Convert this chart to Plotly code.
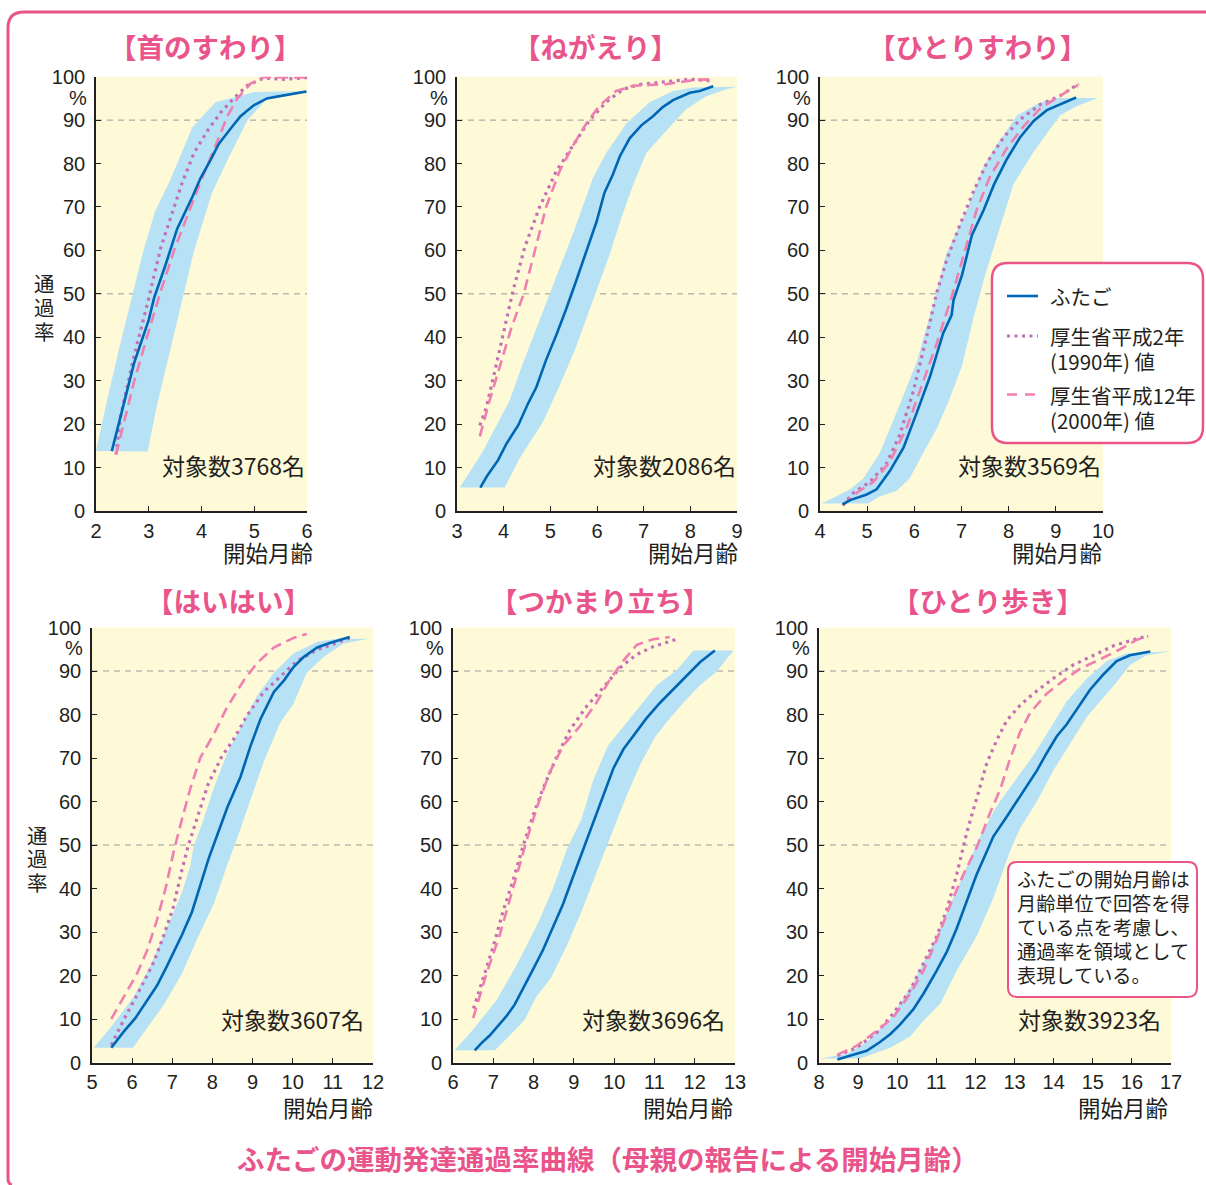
import plotly.graph_objects as go

# ---------------- data ----------------
panel_titles = ["【首のすわり】", "【ねがえり】", "【ひとりすわり】",
                "【はいはい】", "【つかまり立ち】", "【ひとり歩き】"]
subject_counts = ["対象数3768名", "対象数2086名", "対象数3569名",
                  "対象数3607名", "対象数3696名", "対象数3923名"]
legend_labels = ["ふたご", "厚生省平成2年", "(1990年) 値", "厚生省平成12年", "(2000年) 値"]
note_lines = ["ふたごの開始月齢は", "月齢単位で回答を得", "ている点を考慮し、",
              "通過率を領域として", "表現している。"]
y_title_chars = ["通", "過", "率"]
y_ticks = [0, 10, 20, 30, 40, 50, 60, 70, 80, 90, 100]
ref_lines = [50, 90]

# 首のすわり
neck_ticks = [2, 3, 4, 5, 6]
neck_twin_x = [2.30, 2.55, 2.72, 3.0, 3.1, 3.3, 3.48, 3.54, 3.83, 3.98, 4.17, 4.33, 4.55, 4.74, 4.99, 5.24, 5.56, 5.99]
neck_twin_y = [13.8, 25.5, 34, 44, 49, 56, 62.4, 65, 72.4, 76.6, 80.8, 84.6, 88, 90.9, 93.4, 95, 95.7, 96.6]
neck_band_up_x = [2.0, 2.2, 2.45, 2.69, 2.9, 3.12, 3.4, 3.83, 4.27, 4.7, 5.0, 6.0]
neck_band_up_y = [13.8, 25, 38, 50, 60, 69, 76, 88.4, 94.2, 95.5, 96.5, 96.7]
neck_band_lo_x = [2.98, 3.15, 3.35, 3.5, 3.66, 3.86, 4.2, 4.5, 4.87, 5.24, 5.6, 6.0]
neck_band_lo_y = [13.7, 24, 34, 42, 50, 60, 73.3, 81, 90, 94.9, 96.3, 96.7]
neck_1990_x = [2.38, 2.47, 2.72, 2.98, 3.23, 3.48, 3.64, 3.86, 4.11, 4.36, 4.61, 4.87, 5.18, 5.56, 6.0]
neck_1990_y = [13, 22, 35.6, 48, 60.7, 70, 75.8, 82.5, 87.5, 91.7, 95, 98, 99.7, 99.4, 99.8]
neck_2000_x = [2.38, 2.72, 2.98, 3.23, 3.48, 3.73, 3.98, 4.24, 4.49, 4.68, 4.93, 5.18, 6.0]
neck_2000_y = [13, 29.7, 40.6, 50.7, 60, 68, 75.8, 83.3, 90.9, 95, 98.4, 99.9, 99.8]

# ねがえり
roll_ticks = [3, 4, 5, 6, 7, 8, 9]
roll_twin_x = [3.5, 3.64, 3.88, 4.06, 4.31, 4.52, 4.7, 4.91, 5.13, 5.34, 5.56, 5.77, 5.99, 6.16, 6.34, 6.49, 6.7, 6.95, 7.2, 7.41, 7.63, 7.99, 8.2, 8.49]
roll_twin_y = [5.4, 8, 11.7, 15.5, 19.7, 24.7, 28.5, 34.8, 40.6, 46.5, 53.2, 59.9, 66.6, 73.3, 77.5, 81.7, 85.8, 88.8, 90.9, 93, 94.6, 96.3, 96.7, 97.8]
roll_band_up_x = [3.06, 3.56, 4.13, 4.41, 4.77, 5.13, 5.49, 5.91, 6.2, 6.63, 7.13, 7.63, 8.06, 9.01]
roll_band_up_y = [5.4, 13.8, 25.5, 33.9, 44, 54, 64, 76.6, 82.5, 89.2, 94.2, 96.7, 97.5, 97.7]
roll_band_lo_x = [4.02, 4.34, 4.84, 5.2, 5.52, 5.77, 6.02, 6.27, 6.52, 6.77, 7.06, 7.41, 7.91, 8.34, 8.77, 9.01]
roll_band_lo_y = [5.4, 12.1, 20.5, 28.9, 36.9, 44, 51.5, 59, 67.4, 75, 82.5, 86.7, 92.5, 95.5, 97.1, 97.7]
roll_1990_x = [3.49, 3.63, 3.81, 3.99, 4.2, 4.45, 4.77, 5.13, 5.49, 5.84, 6.2, 6.56, 6.91, 7.49, 7.99, 8.41]
roll_1990_y = [19.7, 23.9, 32.2, 40.6, 50.7, 60.7, 70, 78.3, 84.2, 90, 94.2, 97.1, 98.2, 98.8, 99.4, 99.1]
roll_2000_x = [3.49, 3.7, 3.91, 4.16, 4.43, 4.66, 4.91, 5.2, 5.49, 5.77, 6.06, 6.41, 6.77, 7.49, 8.06, 8.41]
roll_2000_y = [17.2, 25.5, 33, 42, 50, 59.9, 70, 78.3, 84.2, 89.2, 93.4, 96.7, 97.9, 98.3, 99.2, 99.4]

# ひとりすわり
sit_ticks = [4, 5, 6, 7, 8, 9, 10]
sit_twin_x = [4.48, 4.64, 4.99, 5.2, 5.48, 5.77, 6.05, 6.33, 6.61, 6.79, 6.83, 7.01, 7.22, 7.47, 7.69, 7.96, 8.24, 8.53, 8.81, 9.16, 9.43]
sit_twin_y = [1.5, 2.5, 3.8, 5, 9.2, 14.6, 22.6, 30.9, 40.9, 45.1, 48.5, 54.3, 63.5, 69.3, 75.2, 81, 86, 89.8, 92.3, 94, 95.2]
sit_band_up_x = [4.04, 4.64, 4.92, 5.27, 5.62, 6.05, 6.4, 6.68, 7.11, 7.47, 7.75, 8.18, 8.66, 9.01, 9.89]
sit_band_up_y = [1.7, 5, 7.5, 13.4, 22.6, 34.3, 47.6, 59.3, 69.3, 79.4, 84.4, 91.1, 94, 95.1, 95.1]
sit_band_lo_x = [5.02, 5.27, 5.62, 5.9, 6.19, 6.47, 6.75, 7.01, 7.25, 7.5, 7.75, 8.1, 8.53, 8.81, 9.09, 9.44, 9.89]
sit_band_lo_y = [1.7, 3.4, 4.6, 7.5, 13.4, 18.8, 25.9, 33.4, 44.3, 54.3, 62.7, 75.2, 82.7, 86.9, 91.1, 93.2, 95.1]
sit_1990_x = [4.48, 4.71, 5.06, 5.41, 5.69, 5.98, 6.26, 6.47, 6.68, 6.97, 7.25, 7.54, 7.89, 8.25, 8.67, 9.09, 9.49]
sit_1990_y = [1.3, 4.2, 6.7, 10.9, 17.5, 27.6, 40.1, 50.1, 57.6, 66, 73.5, 80.2, 86, 90.2, 93.6, 95.6, 98.4]
sit_2000_x = [4.48, 4.78, 5.13, 5.48, 5.84, 6.12, 6.47, 6.79, 7.03, 7.32, 7.6, 7.96, 8.31, 8.67, 9.09, 9.47]
sit_2000_y = [1.3, 4.2, 6.7, 11.3, 19.2, 27.6, 38.4, 49.3, 58.5, 69.3, 76.9, 83.5, 88.5, 92.7, 95.6, 98.1]

# はいはい
crawl_ticks = [5, 6, 7, 8, 9, 10, 11, 12]
crawl_twin_x = [5.48, 5.79, 6.08, 6.37, 6.62, 6.87, 7.24, 7.49, 7.7, 7.91, 8.12, 8.37, 8.7, 8.95, 9.2, 9.53, 9.78, 10.02, 10.27, 10.61, 10.94, 11.42]
crawl_twin_y = [3.4, 7.1, 10.2, 14.2, 17.7, 22.2, 29.3, 34.6, 40.8, 47, 52.3, 58.6, 65.7, 72.8, 79, 85.2, 87.8, 90.9, 93.2, 95.4, 96.5, 97.8]
crawl_band_up_x = [5.04, 5.46, 6.04, 6.45, 6.87, 7.24, 7.45, 7.53, 7.78, 8.03, 8.36, 8.7, 9.11, 9.53, 10.02, 10.61, 11.11, 11.89]
crawl_band_up_y = [3.4, 8, 15.1, 22.2, 31.1, 39, 45.2, 49.6, 55.9, 63, 71, 77.2, 84.3, 89.6, 94, 96.7, 97.4, 97.4]
crawl_band_lo_x = [6.02, 6.37, 6.79, 7.24, 7.62, 8.03, 8.36, 8.61, 8.95, 9.28, 9.69, 10.02, 10.35, 10.77, 11.27, 11.89]
crawl_band_lo_y = [3.4, 8, 13.3, 20.4, 28.4, 36.4, 45.2, 51.4, 60.3, 69.2, 78.1, 82.5, 89.6, 93.2, 96.3, 97.4]
crawl_1990_x = [5.48, 5.79, 6.2, 6.54, 6.79, 7.02, 7.22, 7.39, 7.64, 7.89, 8.22, 8.54, 8.87, 9.28, 9.69, 10.11, 10.61, 11.02, 11.43]
crawl_1990_y = [4, 9.8, 16.9, 23.1, 29.3, 35.5, 43.5, 49.6, 56.8, 63.9, 70.1, 74.5, 79.9, 85.2, 88.7, 92.3, 94.9, 96.3, 97.6]
crawl_2000_x = [5.48, 5.79, 6.12, 6.37, 6.62, 6.83, 7.04, 7.24, 7.45, 7.7, 8.03, 8.36, 8.78, 9.11, 9.53, 10.02, 10.35]
crawl_2000_y = [10, 15.1, 20.4, 25.7, 32.8, 39.9, 48.7, 55.9, 63, 70.1, 75.4, 81.6, 87.8, 91.8, 95.4, 97.6, 98.5]

# つかまり立ち
stand_ticks = [6, 7, 8, 9, 10, 11, 12, 13]
stand_twin_x = [6.54, 6.7, 6.91, 7.16, 7.33, 7.53, 7.74, 7.98, 8.23, 8.48, 8.73, 8.98, 9.23, 9.48, 9.73, 9.98, 10.23, 10.52, 10.8, 11.14, 11.47, 11.8, 12.13, 12.5]
stand_twin_y = [2.8, 4.4, 6.2, 8.9, 10.7, 13.3, 16.9, 21.3, 25.8, 31.1, 36.4, 42.7, 48.9, 55.1, 61.3, 67.6, 72, 75.6, 79.1, 82.7, 85.8, 88.9, 92, 94.7]
stand_band_up_x = [6.04, 6.5, 7.07, 7.49, 7.82, 8.15, 8.48, 8.82, 9.19, 9.48, 9.85, 10.23, 10.64, 11.06, 11.55, 11.97, 12.96]
stand_band_up_y = [2.8, 7.6, 14.2, 20.9, 26.7, 32.9, 40, 48.9, 56, 64.9, 72.9, 77.3, 81.8, 86.7, 90.2, 94.7, 94.7]
stand_band_lo_x = [7.04, 7.41, 7.78, 8.07, 8.44, 8.82, 9.19, 9.56, 9.93, 10.31, 10.64, 11.01, 11.3, 11.72, 12.13, 12.54, 12.96]
stand_band_lo_y = [2.8, 6.2, 9.8, 15.1, 19.6, 26.7, 34.7, 43.6, 52.4, 61.3, 68.4, 74.7, 78.2, 82.7, 86.7, 89.8, 94.7]
stand_1990_x = [6.51, 6.75, 7.0, 7.24, 7.49, 7.74, 7.99, 8.24, 8.57, 8.9, 9.31, 9.73, 10.14, 10.56, 10.97, 11.55]
stand_1990_y = [12.4, 19.6, 26.7, 34.7, 41.8, 49.8, 56.9, 63.1, 70.2, 76.4, 81.8, 86.2, 90.7, 93.8, 95.6, 97.3]
stand_2000_x = [6.5, 6.83, 7.16, 7.41, 7.66, 7.87, 8.12, 8.4, 8.74, 9.15, 9.56, 9.89, 10.23, 10.56, 10.97, 11.38]
stand_2000_y = [10.2, 20.4, 29.3, 37.3, 45.3, 52.4, 59.6, 66.7, 72.9, 77.3, 82.7, 88, 92.4, 96, 97.3, 97.8]

# ひとり歩き
walk_ticks = [8, 9, 10, 11, 12, 13, 14, 15, 16, 17]
walk_twin_x = [8.47, 8.71, 8.96, 9.22, 9.56, 9.82, 10.07, 10.41, 10.67, 11.01, 11.27, 11.52, 11.77, 12.03, 12.29, 12.46, 12.8, 13.06, 13.31, 13.57, 13.82, 14.08, 14.33, 14.59, 14.93, 15.27, 15.61, 15.95, 16.21, 16.47]
walk_twin_y = [0.7, 1.4, 2, 2.7, 4.7, 6.5, 8.7, 12.2, 15.8, 21.1, 25.5, 30.8, 37, 43.2, 48.5, 52, 56.5, 60, 63.5, 67.1, 71.1, 75, 77.7, 81.2, 85.7, 89.2, 92.3, 93.6, 94.1, 94.5]
walk_band_up_x = [8.03, 8.71, 9.22, 9.82, 10.41, 10.92, 11.35, 11.69, 12.12, 12.55, 13.06, 13.48, 13.91, 14.33, 14.85, 15.36, 15.87, 16.97]
walk_band_up_y = [0.9, 2, 4.7, 10, 18.4, 27.3, 36.1, 43.2, 52, 59.1, 65.3, 70.6, 76.8, 83, 88.3, 92.3, 94.1, 94.5]
walk_band_lo_x = [9.05, 9.39, 9.82, 10.33, 10.67, 11.1, 11.52, 12.03, 12.46, 12.88, 13.14, 13.57, 13.99, 14.42, 14.85, 15.19, 15.61, 15.95, 16.38, 16.97]
walk_band_lo_y = [0.9, 2, 3.4, 6, 9.6, 13.5, 21.1, 29, 37.9, 48.5, 53.8, 60, 67.1, 73.3, 79.5, 83, 87.4, 91.4, 93.6, 94.5]
walk_1990_x = [8.47, 8.96, 9.48, 9.9, 10.33, 10.67, 11.01, 11.27, 11.52, 11.78, 12.03, 12.29, 12.55, 12.8, 13.14, 13.48, 13.99, 14.5, 15.02, 15.53, 16.04, 16.38]
walk_1990_y = [1.6, 3.4, 6.9, 11.3, 16.6, 22.8, 29, 35.2, 43.2, 52.9, 60.8, 68.8, 74.2, 78.6, 82.1, 84.8, 88.3, 91.4, 93.6, 95.8, 97.2, 98]
walk_2000_x = [8.47, 8.96, 9.48, 9.9, 10.33, 10.67, 11.01, 11.35, 11.69, 12.03, 12.37, 12.63, 12.88, 13.14, 13.4, 13.82, 14.25, 14.67, 15.19, 15.7, 16.13, 16.42]
walk_2000_y = [1.8, 3.8, 7.3, 10.4, 15.8, 21.1, 28.2, 36.1, 43.2, 49.4, 57.3, 62.7, 69.7, 75.9, 80.4, 84.8, 87.8, 90.5, 92.7, 95, 97.2, 98]

datasets = [
    (neck_ticks, neck_twin_x, neck_twin_y, neck_band_up_x, neck_band_up_y, neck_band_lo_x, neck_band_lo_y, neck_1990_x, neck_1990_y, neck_2000_x, neck_2000_y),
    (roll_ticks, roll_twin_x, roll_twin_y, roll_band_up_x, roll_band_up_y, roll_band_lo_x, roll_band_lo_y, roll_1990_x, roll_1990_y, roll_2000_x, roll_2000_y),
    (sit_ticks, sit_twin_x, sit_twin_y, sit_band_up_x, sit_band_up_y, sit_band_lo_x, sit_band_lo_y, sit_1990_x, sit_1990_y, sit_2000_x, sit_2000_y),
    (crawl_ticks, crawl_twin_x, crawl_twin_y, crawl_band_up_x, crawl_band_up_y, crawl_band_lo_x, crawl_band_lo_y, crawl_1990_x, crawl_1990_y, crawl_2000_x, crawl_2000_y),
    (stand_ticks, stand_twin_x, stand_twin_y, stand_band_up_x, stand_band_up_y, stand_band_lo_x, stand_band_lo_y, stand_1990_x, stand_1990_y, stand_2000_x, stand_2000_y),
    (walk_ticks, walk_twin_x, walk_twin_y, walk_band_up_x, walk_band_up_y, walk_band_lo_x, walk_band_lo_y, walk_1990_x, walk_1990_y, walk_2000_x, walk_2000_y),
]

# ---------------- layout / style ----------------
W, H = 1206, 1185
def px(v): return v / W
def py(v): return 1 - v / H

PINK = "#ea5589"
TITLE_PINK = "#e9548a"
BLUE = "#0066b3"
BAND = "#b7e2f6"
DOT = "#c26fb5"
DASH = "#ef7fb0"
YELLOW = "#fef9d6"
INK = "#231f20"
LAT = "Liberation Sans, Arial, Noto Sans CJK JP, sans-serif"
JP = "Noto Sans CJK JP, sans-serif"

# pixel frames of each plot area: (x0, x1, ytop, ybottom)
frames = [(96, 307, 76.7, 511), (457, 737, 76.7, 511), (820, 1103, 76.7, 511),
          (92, 373, 627.5, 1062.5), (453, 735, 627.5, 1062.5), (819, 1171, 627.5, 1062.5)]
title_pos = [(205, 46), (595, 46), (977, 46), (228, 600), (600, 600), (988, 600)]
xlabel_y = [552, 552, 552, 1107, 1107, 1107]
xlabel_shift = [8, 3, 1, 2, 0, -1]
count_shift = [0, 1, 0, -7, -8, -8]
count_y = [10.6, 10.6, 10.6, 10, 10, 10]

fig = go.Figure()
annotations = []
shapes = []
layout_axes = {}

for i, (frame, ds) in enumerate(zip(frames, datasets)):
    ticks, tx, ty, ux, uy, lx, ly, x90, y90, x00, y00 = ds
    n = "" if i == 0 else str(i + 1)
    xa, ya = "x" + n, "y" + n
    x0, x1, yt, yb = frame
    fig.add_trace(go.Scatter(x=ux + lx[::-1], y=uy + ly[::-1], fill="toself", fillcolor=BAND,
                             line=dict(width=0), mode="lines", hoverinfo="skip",
                             showlegend=False, xaxis=xa, yaxis=ya))
    fig.add_trace(go.Scatter(x=x90, y=y90, mode="lines", showlegend=False,
                             line=dict(color=DOT, width=3.2, dash="3px,4.5px"), xaxis=xa, yaxis=ya))
    fig.add_trace(go.Scatter(x=x00, y=y00, mode="lines", showlegend=False,
                             line=dict(color=DASH, width=2.6, dash="11px,6px"), xaxis=xa, yaxis=ya))
    fig.add_trace(go.Scatter(x=tx, y=ty, mode="lines", showlegend=False,
                             line=dict(color=BLUE, width=2.6), xaxis=xa, yaxis=ya))
    axis_common = dict(showline=True, linecolor=INK, linewidth=1.6, ticks="inside", ticklen=5,
                       tickwidth=1.3, tickcolor=INK, showgrid=False, zeroline=False, automargin=False,
                       tickfont=dict(family=LAT, size=20, color=INK), fixedrange=True)
    layout_axes["xaxis" + n] = dict(axis_common, domain=[px(x0), px(x1)], range=[ticks[0], ticks[-1]],
                                    tickvals=ticks, anchor=ya, ticklabelstandoff=1)
    layout_axes["yaxis" + n] = dict(axis_common, domain=[py(yb), py(yt)], range=[0, 100],
                                    tickvals=y_ticks, anchor=xa, ticklabelstandoff=5)
    for r in ref_lines:
        shapes.append(dict(type="line", xref=xa + " domain", yref=ya, x0=0, x1=1, y0=r, y1=r,
                           line=dict(color="#9a9a9a", width=1, dash="6px,5px"), layer="below"))
    tx_, ty_ = title_pos[i]
    annotations.append(dict(text=panel_titles[i], xref="paper", yref="paper", x=px(tx_), y=py(ty_),
                            showarrow=False, xanchor="center", yanchor="middle",
                            font=dict(family=JP, size=27.5, color=TITLE_PINK, weight="bold")))
    annotations.append(dict(text="%", xref=xa + " domain", yref=ya, x=0, y=95.2, xshift=-7,
                            showarrow=False, xanchor="right", yanchor="middle",
                            font=dict(family=LAT, size=20, color=INK)))
    annotations.append(dict(text="開始月齢", xref=xa + " domain", yref="paper", x=1, y=py(xlabel_y[i]),
                            xshift=xlabel_shift[i], showarrow=False, xanchor="right", yanchor="middle",
                            font=dict(family=JP, size=22.5, color=INK)))
    annotations.append(dict(text=subject_counts[i], xref=xa + " domain", yref=ya, x=1, y=count_y[i],
                            xshift=count_shift[i], showarrow=False, xanchor="right", yanchor="middle",
                            font=dict(family=JP, size=23, color=INK)))

# y-axis titles (stacked vertically, one glyph per line)
for (cx, cy) in [(44, 307), (37, 858)]:
    for k, ch in enumerate(y_title_chars):
        annotations.append(dict(text=ch, xref="paper", yref="paper", x=px(cx), y=py(cy + (k - 1) * 23.5),
                                showarrow=False, xanchor="center", yanchor="middle",
                                font=dict(family=JP, size=20.5, color=INK)))

def P(a, b): return f"{px(a):.5f},{py(b):.5f}"

def rrect(x0, y0, x1, y1, r):
    return (f"M {P(x0 + r, y0)} L {P(x1 - r, y0)} Q {P(x1, y0)} {P(x1, y0 + r)} "
            f"L {P(x1, y1 - r)} Q {P(x1, y1)} {P(x1 - r, y1)} L {P(x0 + r, y1)} "
            f"Q {P(x0, y1)} {P(x0, y1 - r)} L {P(x0, y0 + r)} Q {P(x0, y0)} {P(x0 + r, y0)} Z")

# outer frame
shapes.append(dict(type="path", xref="paper", yref="paper",
                   path=f"M {P(1206, 12)} L {P(24, 12)} Q {P(8, 12)} {P(8, 28)} L {P(8, 1178)} Q {P(8, 1184)} {P(12, 1185)}",
                   line=dict(color=PINK, width=3)))

# legend box
shapes.append(dict(type="path", xref="paper", yref="paper", path=rrect(992, 263, 1203, 443, 16),
                   fillcolor="white", line=dict(color=PINK, width=2.5), layer="above"))
legend_rows = [(296, BLUE, None, 2.6), (336, DOT, "3px,4.5px", 3.2), (394.5, DASH, "10px,8px", 2.6)]
for (ly_, col, dsh, wd) in legend_rows:
    ln = dict(color=col, width=wd)
    if dsh:
        ln["dash"] = dsh
    shapes.append(dict(type="line", xref="paper", yref="paper", x0=px(1007), x1=px(1038),
                       y0=py(ly_), y1=py(ly_), line=ln, layer="above"))
for txt, yy in zip(legend_labels, [296, 336, 361, 395, 420]):
    annotations.append(dict(text=txt, xref="paper", yref="paper", x=px(1048), y=py(yy),
                            showarrow=False, xanchor="left", yanchor="middle",
                            font=dict(family=JP, size=20.5, color=INK)))

# note box
shapes.append(dict(type="path", xref="paper", yref="paper", path=rrect(1008, 862, 1197, 997, 9),
                   fillcolor="white", line=dict(color=PINK, width=2), layer="above"))
for k, txt in enumerate(note_lines):
    annotations.append(dict(text=txt, xref="paper", yref="paper", x=px(1015), y=py(879 + 24 * k),
                            showarrow=False, xanchor="left", yanchor="middle",
                            font=dict(family=JP, size=19.2, color=INK)))

# bottom caption
annotations.append(dict(text="ふたごの運動発達通過率曲線（母親の報告による開始月齢）", xref="paper", yref="paper",
                        x=px(608), y=py(1158), showarrow=False, xanchor="center", yanchor="middle",
                        font=dict(family=JP, size=27.5, color=TITLE_PINK, weight="bold")))

fig.update_layout(width=W, height=H, autosize=False,
                  margin=dict(l=0, r=0, t=0, b=0, pad=0, autoexpand=False),
                  paper_bgcolor="white", plot_bgcolor=YELLOW, showlegend=False,
                  annotations=annotations, shapes=shapes, **layout_axes)

fig.write_html("out.html", config={"displayModeBar": False},
               post_script="document.body.style.margin='0';document.body.style.overflow='hidden';")
